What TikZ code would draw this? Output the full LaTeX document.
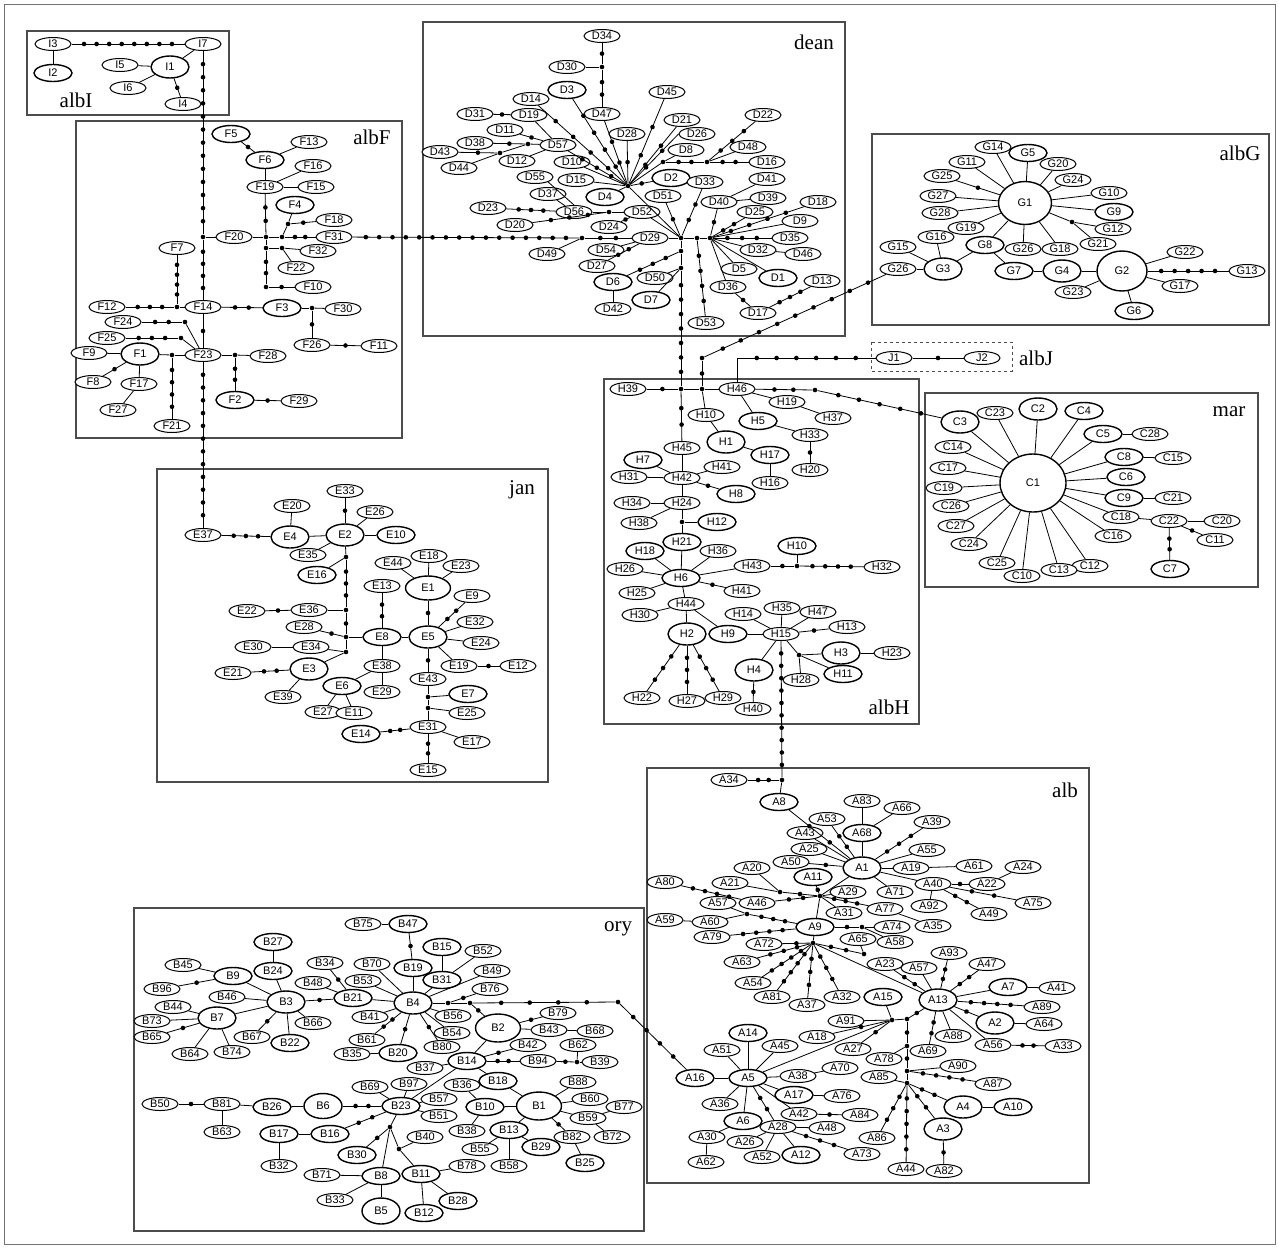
\documentclass[tikz,border=0pt]{standalone}
\usepackage{fontspec}
\setmainfont{Liberation Serif}
\setsansfont{Liberation Sans}
\usepackage{tikz}
\usetikzlibrary{shapes.geometric,decorations.markings}

\newcommand\mutdot{\fill (0,0) circle (2.3pt);}
\tikzset{
  hap/.style={ellipse, draw, fill=white, line width=1pt, inner sep=0pt, minimum width=36pt, minimum height=13pt, font=\sffamily\fontsize{11}{11}\selectfont},
  hapb/.style={hap, line width=1.4pt, minimum width=38pt, minimum height=17pt},
  hapl/.style={hap, line width=1.4pt, minimum width=38pt, minimum height=22pt},
  hapxl/.style={hap, line width=1.4pt, minimum width=45pt, minimum height=28pt},
  jd/.style={circle, fill=black, inner sep=0pt, minimum size=4.6pt},
  grp/.style={draw=black!70, line width=1.2pt},
  grplab/.style={font=\fontsize{21}{21}\selectfont},
  mut/.code={%
    \pgfmathsetmacro\mutstep{1/(#1+1)}%
    \pgfmathsetmacro\mutend{#1/(#1+1)+0.003}%
    \edef\mutopt{\noexpand\tikzset{postaction={decorate,decoration={markings,mark=between positions \mutstep\space and \mutend\space step \mutstep\space with {\noexpand\mutdot}}}}}%
    \mutopt},
}

\begin{document}
\begin{tikzpicture}[x=1pt, y=-1pt, line width=0.8pt]
\useasboundingbox (0,0) rectangle (1279,1248);
\draw[black!55, line width=0.8pt] (4,4) rectangle (1275,1244);

% -- group frames --
\draw[grp] (27,31) rectangle (229,115);
\draw[grp] (76,121) rectangle (402,438);
\draw[grp] (423,22) rectangle (845,336);
\draw[grp] (872,134) rectangle (1269,325);
\draw[grp, dashed, line width=0.8pt] (871,342) rectangle (1012,371);
\draw[grp] (604,379) rectangle (919,724);
\draw[grp] (925,393) rectangle (1258,587);
\draw[grp] (157,469) rectangle (548,782);
\draw[grp] (647,768) rectangle (1089,1183);
\draw[grp] (134,908) rectangle (644,1231);

\node[grplab] (lalbI) at (76,100) {albI};
\node[grplab] (lalbF) at (372,137) {albF};
\node[grplab] (ldean) at (814,42) {dean};
\node[grplab] (lalbG) at (1240,153) {albG};
\node[grplab] (lalbJ) at (1036,358) {albJ};
\node[grplab] (lalbH) at (889,707) {albH};
\node[grplab] (lmar) at (1229,412) {mar};
\node[grplab] (ljan) at (522,490) {jan};
\node[grplab] (lalb) at (1065,790) {alb};
\node[grplab] (lory) at (618,929) {ory};

% -- albI --
\node[hap] (I3) at (53,44) {I3};
\node[hapb] (I2) at (53,73) {I2};
\node[hap] (I7) at (203,44) {I7};
\node[hapl] (I1) at (170,67) {I1};
\node[hap] (I5) at (120,65) {I5};
\node[hap] (I6) at (128,88) {I6};
\node[hap] (I4) at (183,104) {I4};

% -- albF --
\node[hapb] (F5) at (231,134) {F5};
\node[hapb] (F6) at (265,160) {F6};
\node[hap] (F13) at (309,142) {F13};
\node[hap] (F16) at (313,166) {F16};
\node[hap] (F19) at (265,187) {F19};
\node[hap] (F15) at (316,187) {F15};
\node[hapb] (F4) at (295,205) {F4};
\node[hap] (F18) at (334,220) {F18};
\node[hap] (F20) at (234,237) {F20};
\node[hap] (F31) at (334,237) {F31};
\node[hap] (F32) at (318,251) {F32};
\node[hap] (F22) at (296,268) {F22};
\node[hap] (F10) at (313,287) {F10};
\node[hap] (F7) at (177,248) {F7};
\node[hap] (F12) at (107,307) {F12};
\node[hap] (F14) at (203,307) {F14};
\node[hapb] (F3) at (282,308) {F3};
\node[hap] (F30) at (343,309) {F30};
\node[hap] (F24) at (123,322) {F24};
\node[hap] (F25) at (107,338) {F25};
\node[hap] (F26) at (312,345) {F26};
\node[hap] (F11) at (379,346) {F11};
\node[hap] (F9) at (89,353) {F9};
\node[hapl] (F1) at (140,354) {F1};
\node[hap] (F23) at (203,355) {F23};
\node[hap] (F28) at (268,356) {F28};
\node[hap] (F8) at (93,382) {F8};
\node[hap] (F17) at (139,384) {F17};
\node[hap] (F27) at (118,410) {F27};
\node[hapb] (F2) at (235,400) {F2};
\node[hap] (F29) at (299,401) {F29};
\node[hap] (F21) at (172,426) {F21};
\node[jd] (jF20) at (203,237) {};
\node[jd] (jF19) at (266,237) {};
\node[jd] (jF4) at (282,237) {};
\node[jd] (jF18) at (288,224) {};
\node[jd] (jF32a) at (266,248) {};
\node[jd] (jF32b) at (282,248) {};
\node[jd] (jF10) at (266,287) {};
\node[jd] (jF7) at (177,307) {};
\node[jd] (jF3) at (312,308) {};
\node[jd] (jF24) at (185,322) {};
\node[jd] (jF25) at (181,338) {};
\node[jd] (jF21) at (172,355) {};
\node[jd] (jF2) at (235,355) {};

% -- dean --
\node[hap] (D34) at (602,36) {D34};
\node[hap] (D30) at (567,67) {D30};
\node[hapb] (D3) at (567,90) {D3};
\node[hap] (D45) at (667,92) {D45};
\node[hap] (D14) at (531,99) {D14};
\node[hap] (D47) at (602,114) {D47};
\node[hap] (D31) at (475,114) {D31};
\node[hap] (D19) at (529,115) {D19};
\node[hap] (D22) at (763,115) {D22};
\node[hap] (D21) at (682,120) {D21};
\node[hap] (D11) at (505,130) {D11};
\node[hap] (D28) at (627,134) {D28};
\node[hap] (D26) at (697,134) {D26};
\node[hap] (D38) at (475,143) {D38};
\node[hap] (D57) at (558,145) {D57};
\node[hap] (D43) at (440,152) {D43};
\node[hap] (D8) at (686,150) {D8};
\node[hap] (D48) at (748,147) {D48};
\node[hap] (D12) at (517,161) {D12};
\node[hap] (D44) at (459,168) {D44};
\node[hap] (D10) at (572,162) {D10};
\node[hap] (D16) at (767,162) {D16};
\node[hap] (D55) at (535,177) {D55};
\node[hap] (D15) at (576,180) {D15};
\node[hapb] (D2) at (671,178) {D2};
\node[hap] (D33) at (705,182) {D33};
\node[hap] (D41) at (767,179) {D41};
\node[hapb] (D4) at (605,197) {D4};
\node[hap] (D51) at (663,196) {D51};
\node[hap] (D37) at (548,194) {D37};
\node[hap] (D39) at (768,198) {D39};
\node[hap] (D18) at (818,202) {D18};
\node[hap] (D40) at (719,202) {D40};
\node[hap] (D25) at (755,212) {D25};
\node[hap] (D23) at (488,208) {D23};
\node[hap] (D56) at (574,212) {D56};
\node[hap] (D52) at (642,212) {D52};
\node[hap] (D9) at (800,221) {D9};
\node[hap] (D20) at (515,225) {D20};
\node[hap] (D24) at (609,227) {D24};
\node[hap] (D29) at (650,238) {D29};
\node[hap] (D35) at (790,238) {D35};
\node[hap] (D49) at (547,254) {D49};
\node[hap] (D54) at (606,250) {D54};
\node[hap] (D32) at (758,250) {D32};
\node[hap] (D46) at (803,254) {D46};
\node[hap] (D27) at (597,266) {D27};
\node[hap] (D5) at (739,269) {D5};
\node[hapb] (D6) at (613,282) {D6};
\node[hap] (D50) at (655,278) {D50};
\node[hapb] (D1) at (778,278) {D1};
\node[hap] (D36) at (728,287) {D36};
\node[hap] (D13) at (822,281) {D13};
\node[hapb] (D7) at (651,300) {D7};
\node[hap] (D17) at (758,313) {D17};
\node[hap] (D42) at (613,309) {D42};
\node[hap] (D53) at (706,323) {D53};
\node[jd] (jD30) at (602,67) {};
\node[jd] (hA) at (628,186) {};
\node[jd] (hB) at (681,238) {};
\node[jd] (jBC) at (697,238) {};
\node[jd] (hC) at (710,238) {};
\node[jd] (jD16) at (663,162) {};
\node[jd] (jD48) at (707,162) {};
\node[jd] (jD56) at (609,212) {};
\node[jd] (jD49) at (582,238) {};
\node[jd] (jD6) at (681,251) {};
\node[jd] (jD7) at (681,268) {};
\node[jd] (jD43) at (500,153) {};
\node[jd] (jD38) at (528,144) {};

% -- albG --
\node[hap] (G14) at (993,147) {G14};
\node[hapb] (G5) at (1028,153) {G5};
\node[hap] (G11) at (967,162) {G11};
\node[hap] (G20) at (1058,164) {G20};
\node[hap] (G25) at (942,176) {G25};
\node[hap] (G24) at (1073,180) {G24};
\node[hap] (G27) at (938,196) {G27};
\node[hap] (G10) at (1109,193) {G10};
\node[hap, line width=1.4pt, minimum width=53pt, minimum height=43pt] (G1) at (1025,203) {G1};
\node[hapb] (G9) at (1114,212) {G9};
\node[hap] (G28) at (940,213) {G28};
\node[hap] (G19) at (966,228) {G19};
\node[hap] (G12) at (1113,229) {G12};
\node[hap] (G16) at (936,237) {G16};
\node[hapb] (G8) at (985,245) {G8};
\node[hap] (G26a) at (1023,249) {G26};
\node[hap] (G18) at (1060,249) {G18};
\node[hap] (G21) at (1098,244) {G21};
\node[hap] (G15) at (898,247) {G15};
\node[hap] (G22) at (1185,252) {G22};
\node[hap] (G26b) at (898,269) {G26};
\node[hapl] (G3) at (943,269) {G3};
\node[hapb] (G7) at (1014,271) {G7};
\node[hapl] (G4) at (1062,271) {G4};
\node[hap, line width=1.4pt, minimum width=50pt, minimum height=40pt] (G2) at (1122,271) {G2};
\node[hap] (G13) at (1247,271) {G13};
\node[hap] (G17) at (1180,286) {G17};
\node[hap] (G23) at (1073,292) {G23};
\node[hapb] (G6) at (1134,311) {G6};
\node[jd] (jG12) at (1072,222) {};

% -- albJ --
\node[hap] (J1) at (894,358) {J1};
\node[hap] (J2) at (982,358) {J2};
\coordinate (jJ) at (737,358);
\node[jd] (jGA) at (702,358) {};

% -- albH --
\node[hap] (H39) at (628,389) {H39};
\node[hap] (H46) at (737,389) {H46};
\node[hap] (H19) at (787,402) {H19};
\node[hap] (H10a) at (706,415) {H10};
\node[hap] (H37) at (833,418) {H37};
\node[hapb] (H5) at (758,421) {H5};
\node[hapl] (H1) at (726,442) {H1};
\node[hap] (H33) at (810,435) {H33};
\node[hap] (H45) at (682,448) {H45};
\node[hapb] (H7) at (643,460) {H7};
\node[hapb] (H17) at (770,455) {H17};
\node[hap] (H41a) at (722,467) {H41};
\node[hap] (H31) at (629,477) {H31};
\node[hap] (H42) at (682,478) {H42};
\node[hap] (H20) at (810,470) {H20};
\node[hap] (H16) at (770,483) {H16};
\node[hapb] (H8) at (736,494) {H8};
\node[hap] (H34) at (632,503) {H34};
\node[hap] (H24) at (682,503) {H24};
\node[hap] (H38) at (639,523) {H38};
\node[hapb] (H12) at (717,522) {H12};
\node[hapb] (H21) at (682,542) {H21};
\node[hapb] (H18) at (645,551) {H18};
\node[hapb] (H10b) at (797,546) {H10};
\node[hap] (H36) at (718,551) {H36};
\node[hap] (H26) at (625,569) {H26};
\node[hap] (H43) at (752,566) {H43};
\node[hap] (H32) at (882,567) {H32};
\node[hapb] (H6) at (681,578) {H6};
\node[hap] (H25) at (637,593) {H25};
\node[hap] (H41b) at (742,591) {H41};
\node[hap] (H44) at (686,604) {H44};
\node[hap] (H35) at (782,608) {H35};
\node[hap] (H30) at (640,615) {H30};
\node[hap] (H14) at (743,614) {H14};
\node[hap] (H47) at (818,612) {H47};
\node[hap] (H13) at (847,627) {H13};
\node[hapl] (H2) at (687,634) {H2};
\node[hapb] (H9) at (728,634) {H9};
\node[hap] (H15) at (781,634) {H15};
\node[hapl] (H3) at (841,653) {H3};
\node[hap] (H23) at (892,653) {H23};
\node[hapl] (H4) at (754,670) {H4};
\node[hapb] (H11) at (843,674) {H11};
\node[hap] (H28) at (801,680) {H28};
\node[hap] (H22) at (642,698) {H22};
\node[hap] (H27) at (687,701) {H27};
\node[hap] (H29) at (723,698) {H29};
\node[hap] (H40) at (753,709) {H40};
\node[jd] (jH39) at (681,389) {};
\node[jd] (jH46a) at (702,389) {};
\node[jd] (jH46b) at (815,390) {};
\node[jd] (jH12) at (682,522) {};
\node[jd] (jH10) at (797,566) {};
\node[jd] (jH3) at (799,655) {};

% -- mar --
\node[hapl] (C3) at (960,422) {C3};
\node[hap] (C23) at (995,413) {C23};
\node[hapl] (C2) at (1038,409) {C2};
\node[hapb] (C4) at (1084,411) {C4};
\node[hapb] (C5) at (1103,434) {C5};
\node[hap] (C28) at (1150,434) {C28};
\node[hap] (C14) at (953,447) {C14};
\node[hapb] (C8) at (1124,457) {C8};
\node[hap] (C15) at (1173,458) {C15};
\node[hap] (C17) at (948,468) {C17};
\node[hap, line width=1.4pt, minimum width=66pt, minimum height=58pt] (C1) at (1033,483) {C1};
\node[hapb] (C6) at (1126,477) {C6};
\node[hap] (C19) at (944,488) {C19};
\node[hapb] (C9) at (1124,498) {C9};
\node[hap] (C21) at (1173,498) {C21};
\node[hap] (C26) at (951,506) {C26};
\node[hap] (C18) at (1121,517) {C18};
\node[hap] (C22) at (1169,521) {C22};
\node[hap] (C20) at (1222,521) {C20};
\node[hap] (C27) at (956,526) {C27};
\node[hap] (C16) at (1113,536) {C16};
\node[hap] (C11) at (1215,540) {C11};
\node[hap] (C24) at (969,544) {C24};
\node[hap] (C25) at (997,563) {C25};
\node[hap] (C12) at (1090,566) {C12};
\node[hap] (C13) at (1059,570) {C13};
\node[hap] (C10) at (1022,576) {C10};
\node[hapb] (C7) at (1170,569) {C7};

% -- jan --
\node[hap] (E33) at (345,491) {E33};
\node[hap] (E20) at (292,506) {E20};
\node[hap] (E26) at (375,512) {E26};
\node[hap] (E37) at (203,535) {E37};
\node[hapl] (E4) at (290,537) {E4};
\node[hapl] (E2) at (345,535) {E2};
\node[hapb] (E10) at (396,535) {E10};
\node[hap] (E35) at (308,555) {E35};
\node[hap] (E18) at (429,556) {E18};
\node[hap] (E44) at (393,563) {E44};
\node[hap] (E23) at (461,566) {E23};
\node[hapb] (E16) at (317,575) {E16};
\node[hap] (E13) at (382,586) {E13};
\node[hap, line width=1.4pt, minimum width=45pt, minimum height=24pt] (E1) at (428,588) {E1};
\node[hap] (E9) at (472,596) {E9};
\node[hap] (E22) at (247,611) {E22};
\node[hap] (E36) at (309,610) {E36};
\node[hap] (E32) at (475,622) {E32};
\node[hap] (E28) at (304,627) {E28};
\node[hapb] (E8) at (382,637) {E8};
\node[hapl] (E5) at (428,637) {E5};
\node[hap] (E24) at (481,643) {E24};
\node[hap] (E30) at (253,647) {E30};
\node[hap] (E34) at (311,647) {E34};
\node[hap] (E19) at (459,666) {E19};
\node[hap] (E12) at (518,666) {E12};
\node[hap] (E21) at (233,673) {E21};
\node[hapl] (E3) at (309,669) {E3};
\node[hap] (E38) at (382,666) {E38};
\node[hap] (E43) at (428,679) {E43};
\node[hapb] (E6) at (342,686) {E6};
\node[hap] (E29) at (382,692) {E29};
\node[hapb] (E7) at (468,694) {E7};
\node[hap] (E39) at (283,697) {E39};
\node[hap] (E27) at (323,712) {E27};
\node[hap] (E11) at (354,713) {E11};
\node[hap] (E25) at (467,713) {E25};
\node[hap] (E31) at (428,727) {E31};
\node[hapb] (E14) at (361,734) {E14};
\node[hap] (E17) at (472,742) {E17};
\node[hap] (E15) at (428,770) {E15};
\node[jd] (jE16) at (346,557) {};
\node[jd] (jE36) at (346,610) {};
\node[jd] (jE8) at (346,637) {};
\node[jd] (jE34) at (346,652) {};
\node[jd] (jE7) at (428,697) {};
\node[jd] (jE25) at (428,708) {};

% -- alb --
\node[hap] (A34) at (729,780) {A34};
\node[hapb] (A8) at (779,802) {A8};
\node[hap] (A83) at (862,801) {A83};
\node[hap] (A66) at (902,808) {A66};
\node[hap] (A53) at (827,819) {A53};
\node[hap] (A39) at (932,822) {A39};
\node[hap] (A43) at (805,833) {A43};
\node[hapb] (A68) at (862,833) {A68};
\node[hap] (A25) at (809,849) {A25};
\node[hap] (A55) at (927,850) {A55};
\node[hap] (A50) at (791,862) {A50};
\node[hapl] (A1) at (862,868) {A1};
\node[hap] (A19) at (911,868) {A19};
\node[hap] (A61) at (974,866) {A61};
\node[hap] (A24) at (1023,867) {A24};
\node[hap] (A20) at (752,868) {A20};
\node[hapb] (A11) at (813,877) {A11};
\node[hap] (A80) at (665,882) {A80};
\node[hap] (A21) at (730,883) {A21};
\node[hap] (A40) at (933,884) {A40};
\node[hap] (A22) at (987,884) {A22};
\node[hap] (A29) at (848,892) {A29};
\node[hap] (A71) at (895,892) {A71};
\node[hap] (A57a) at (718,903) {A57};
\node[hap] (A46) at (757,903) {A46};
\node[hap] (A92) at (929,906) {A92};
\node[hap] (A75) at (1033,903) {A75};
\node[hap] (A77) at (885,909) {A77};
\node[hap] (A31) at (844,913) {A31};
\node[hap] (A49) at (989,914) {A49};
\node[hap] (A59) at (665,920) {A59};
\node[hap] (A60) at (710,922) {A60};
\node[hapb] (A9) at (815,927) {A9};
\node[hap] (A35) at (933,926) {A35};
\node[hap] (A74) at (892,927) {A74};
\node[hap] (A79) at (712,937) {A79};
\node[hap] (A65) at (858,939) {A65};
\node[hap] (A58) at (895,942) {A58};
\node[hap] (A72) at (764,944) {A72};
\node[hap] (A93) at (949,953) {A93};
\node[hap] (A63) at (742,962) {A63};
\node[hap] (A23) at (885,964) {A23};
\node[hap] (A57b) at (919,968) {A57};
\node[hap] (A47) at (987,964) {A47};
\node[hap] (A54) at (753,983) {A54};
\node[hap] (A81) at (772,997) {A81};
\node[hap] (A37) at (807,1005) {A37};
\node[hap] (A32) at (842,997) {A32};
\node[hapb] (A15) at (883,997) {A15};
\node[hapl] (A13) at (938,1000) {A13};
\node[hapb] (A7) at (1008,987) {A7};
\node[hap] (A41) at (1057,988) {A41};
\node[hap] (A89) at (1042,1007) {A89};
\node[hap] (A91) at (846,1021) {A91};
\node[hapl] (A2) at (995,1023) {A2};
\node[hap] (A64) at (1044,1024) {A64};
\node[hap] (A88) at (953,1036) {A88};
\node[hapb] (A14) at (748,1033) {A14};
\node[hap] (A18) at (817,1037) {A18};
\node[hap] (A51) at (722,1050) {A51};
\node[hap] (A45) at (780,1046) {A45};
\node[hap] (A27) at (853,1049) {A27};
\node[hap] (A69) at (928,1051) {A69};
\node[hap] (A56) at (993,1045) {A56};
\node[hap] (A33) at (1063,1046) {A33};
\node[hap] (A78) at (884,1059) {A78};
\node[hap] (A90) at (958,1066) {A90};
\node[hapb] (A16) at (695,1078) {A16};
\node[hapb] (A5) at (748,1078) {A5};
\node[hap] (A38) at (798,1076) {A38};
\node[hap] (A70) at (840,1068) {A70};
\node[hap] (A85) at (879,1077) {A85};
\node[hap] (A87) at (993,1084) {A87};
\node[hapb] (A17) at (794,1095) {A17};
\node[hap] (A76) at (842,1096) {A76};
\node[hap] (A36) at (720,1104) {A36};
\node[hapl] (A4) at (963,1107) {A4};
\node[hapb] (A10) at (1013,1107) {A10};
\node[hap] (A42) at (799,1114) {A42};
\node[hap] (A84) at (860,1115) {A84};
\node[hapb] (A6) at (743,1121) {A6};
\node[hap] (A28) at (778,1127) {A28};
\node[hap] (A48) at (827,1128) {A48};
\node[hapl] (A3) at (943,1129) {A3};
\node[hap] (A30) at (707,1137) {A30};
\node[hap] (A26) at (745,1142) {A26};
\node[hap] (A86) at (877,1138) {A86};
\node[hap] (A73) at (862,1154) {A73};
\node[hap] (A52) at (762,1157) {A52};
\node[hapb] (A12) at (801,1155) {A12};
\node[hap] (A62) at (706,1162) {A62};
\node[hap] (A44) at (906,1169) {A44};
\node[hap] (A82) at (944,1171) {A82};
\node[jd] (jA34) at (782,780) {};
\node[jd] (jA9) at (820,896) {};
\node[jd] (jA21) at (780,892) {};
\node[jd] (jA60) at (747,914) {};
\node[jd] (jA74) at (862,927) {};
\node[jd] (jA72) at (813,943) {};
\node[jd] (jA65) at (864,954) {};
\node[jd] (jA15) at (892,1020) {};
\node[jd] (jV1) at (907,1019) {};
\node[jd] (jV2) at (907,1046) {};
\node[jd] (jV3) at (907,1071) {};
\node[jd] (jV4) at (907,1083) {};

% -- ory --
\node[hap] (B75) at (363,924) {B75};
\node[hapb] (B47) at (408,924) {B47};
\node[hapb] (B27) at (273,942) {B27};
\node[hapb] (B15) at (442,947) {B15};
\node[hap] (B52) at (483,951) {B52};
\node[hapb] (B19) at (413,968) {B19};
\node[hapb] (B31) at (442,980) {B31};
\node[hap] (B49) at (492,971) {B49};
\node[hap] (B45) at (183,965) {B45};
\node[hapb] (B9) at (233,976) {B9};
\node[hapb] (B24) at (273,971) {B24};
\node[hap] (B34) at (325,963) {B34};
\node[hap] (B70) at (372,964) {B70};
\node[hap] (B76) at (490,989) {B76};
\node[hap] (B96) at (162,989) {B96};
\node[hap] (B48) at (313,983) {B48};
\node[hap] (B53) at (363,981) {B53};
\node[hap] (B46) at (227,997) {B46};
\node[hapl] (B3) at (286,1002) {B3};
\node[hapb] (B21) at (353,998) {B21};
\node[hapl] (B4) at (413,1003) {B4};
\node[hap] (B44) at (173,1007) {B44};
\node[hapl] (B7) at (217,1018) {B7};
\node[hap] (B73) at (152,1021) {B73};
\node[hap] (B41) at (370,1017) {B41};
\node[hap] (B66) at (313,1023) {B66};
\node[hap] (B56) at (453,1016) {B56};
\node[hap] (B65) at (152,1037) {B65};
\node[hap] (B54) at (452,1033) {B54};
\node[hapxl] (B2) at (498,1028) {B2};
\node[hap] (B79) at (558,1013) {B79};
\node[hap] (B43) at (549,1030) {B43};
\node[hap] (B68) at (595,1031) {B68};
\node[hap] (B61) at (367,1040) {B61};
\node[hap] (B67) at (252,1037) {B67};
\node[hapb] (B22) at (290,1043) {B22};
\node[hap] (B80) at (442,1047) {B80};
\node[hap] (B42) at (528,1045) {B42};
\node[hap] (B62) at (578,1045) {B62};
\node[hap] (B64) at (190,1054) {B64};
\node[hap] (B74) at (232,1052) {B74};
\node[hap] (B35) at (352,1054) {B35};
\node[hapb] (B20) at (398,1053) {B20};
\node[hapb] (B14) at (467,1061) {B14};
\node[hap] (B94) at (538,1061) {B94};
\node[hap] (B39) at (600,1062) {B39};
\node[hap] (B37) at (425,1068) {B37};
\node[hapb] (B18) at (498,1081) {B18};
\node[hap] (B88) at (578,1082) {B88};
\node[hap] (B69) at (370,1087) {B69};
\node[hap] (B97) at (409,1084) {B97};
\node[hap] (B36) at (462,1085) {B36};
\node[hap] (B57) at (439,1099) {B57};
\node[hap] (B60) at (590,1099) {B60};
\node[hap] (B77) at (624,1107) {B77};
\node[hap] (B50) at (160,1104) {B50};
\node[hap] (B81) at (222,1104) {B81};
\node[hapb] (B26) at (272,1107) {B26};
\node[hap, line width=1.4pt, minimum width=38pt, minimum height=25pt] (B6) at (323,1106) {B6};
\node[hapb] (B23) at (401,1106) {B23};
\node[hapb] (B10) at (485,1107) {B10};
\node[hapxl] (B1) at (539,1106) {B1};
\node[hap] (B51) at (439,1116) {B51};
\node[hap] (B59) at (588,1118) {B59};
\node[hap] (B38) at (467,1131) {B38};
\node[hapb] (B13) at (509,1130) {B13};
\node[hap] (B82) at (572,1137) {B82};
\node[hap] (B72) at (612,1137) {B72};
\node[hap] (B40) at (425,1137) {B40};
\node[hapb] (B17) at (279,1134) {B17};
\node[hapb] (B16) at (330,1134) {B16};
\node[hap] (B63) at (222,1132) {B63};
\node[hapb] (B29) at (541,1147) {B29};
\node[hap] (B55) at (480,1149) {B55};
\node[hapb] (B30) at (357,1155) {B30};
\node[hap] (B58) at (509,1166) {B58};
\node[hapb] (B25) at (585,1163) {B25};
\node[hap] (B78) at (467,1166) {B78};
\node[hap] (B32) at (279,1166) {B32};
\node[hap] (B71) at (322,1175) {B71};
\node[hapb] (B8) at (381,1176) {B8};
\node[hapb] (B11) at (421,1174) {B11};
\node[hap] (B33) at (335,1200) {B33};
\node[hapb] (B28) at (458,1201) {B28};
\node[hap, line width=1.4pt, minimum width=38pt, minimum height=26pt] (B5) at (381,1211) {B5};
\node[hapb] (B12) at (424,1213) {B12};
\node[jd] (jB4a) at (448,1003) {};
\node[jd] (jB4b) at (470,1003) {};
\node[jd] (jOry) at (618,1002) {};
\node[jd] (jB39) at (577,1062) {};
\node[jd] (jB23) at (390,1127) {};
\node[jd] (jB40) at (399,1149) {};

% -- connectors: albI / albF --
\draw (I3) -- (I2); \draw[mut=8] (I3) -- (I7);
\draw (I1) -- (I5); \draw (I1) -- (I6); \draw (I1) -- (I7); \draw[mut=1] (I1) -- (I4);
\draw[mut=13] (I7) -- (jF20); \draw[mut=4] (jF20) -- (F14);
\draw (F20) -- (jF20); \draw (F20) -- (jF19);
\draw[mut=1] (F5) -- (F6); \draw (F6) -- (F13); \draw (F6) -- (F19);
\draw (F19) -- (F16); \draw (F19) -- (F15);
\draw[mut=2] (F19) -- (jF19);
\draw (jF19) -- (jF4); \draw[mut=2] (jF4) -- (F31);
\draw (jF4) -- (jF18); \draw (jF18) -- (F4); \draw[mut=1] (jF18) -- (F18);
\draw (jF19) -- (jF32a); \draw (jF32a) -- (jF32b); \draw (jF32b) -- (F32); \draw (jF32b) -- (F22);
\draw[mut=2] (jF32a) -- (jF10); \draw[mut=1] (jF10) -- (F10);
\draw[mut=4] (F7) -- (jF7); \draw[mut=3] (F12) -- (jF7); \draw (jF7) -- (F14);
\draw[mut=2] (F14) -- (F3); \draw (F3) -- (jF3); \draw (jF3) -- (F30);
\draw[mut=1] (jF3) -- (F26); \draw[mut=1] (F26) -- (F11);
\draw[mut=1] (F14) -- (F23);
\draw[mut=2] (F24) -- (jF24); \draw (jF24) -- (F23);
\draw[mut=3] (F25) -- (jF25); \draw (jF25) -- (F23);
\draw (F9) -- (F1); \draw (F1) -- (jF21); \draw (jF21) -- (F23); \draw[mut=4] (jF21) -- (F21);
\draw[mut=1] (F1) -- (F8); \draw (F1) -- (F17); \draw (F17) -- (F27);
\draw (F23) -- (jF2); \draw (jF2) -- (F28); \draw[mut=2] (jF2) -- (F2); \draw[mut=1] (F2) -- (F29);
\draw[mut=12] (F23) -- (E37);

% -- connectors: dean --
\draw[mut=1] (D34) -- (jD30); \draw (D30) -- (jD30); \draw[mut=2] (jD30) -- (D47);
\draw[mut=2] (D47) -- (hA); \draw[mut=4] (D3) -- (hA); \draw[mut=4] (D14) -- (hA); \draw[mut=3] (D57) -- (hA);
\draw (D19) -- (D57); \draw[mut=1] (D31) -- (D19); \draw[mut=1] (D11) -- (D57);
\draw[mut=1] (D43) -- (jD43); \draw (D44) -- (jD43); \draw (jD43) -- (jD38);
\draw[mut=1] (D38) -- (jD38); \draw (jD38) -- (D57); \draw (D12) -- (D57);
\draw (D10) -- (hA); \draw (D15) -- (hA); \draw[mut=1] (D28) -- (hA); \draw (D4) -- (hA); \draw[mut=1] (D2) -- (hA);
\draw[mut=2] (D45) -- (hA); \draw[mut=2] (D21) -- (hA); \draw[mut=2] (hA) -- (D26.west);
\draw (hA) -- (jD16); \draw (D8) -- (jD16);
\draw[mut=2] (jD16) -- (jD48); \draw[mut=2] (jD48) -- (D16);
\draw (D48) -- (jD48); \draw[mut=3] (D22) -- (jD48);
\draw (D55.south east) -- (D56.north); \draw (D37) -- (D56); \draw[mut=3] (D23) -- (D56);
\draw (D56) -- (jD56); \draw (jD56) -- (D52); \draw[mut=3] (D20) -- (jD56);
\draw (D52) -- (hB); \draw[mut=1] (D24) -- (D52); \draw (hA) -- (hB);
\draw[mut=1] (D51) -- (hB); \draw[mut=2] (D33) -- (hB);
\draw (D29) -- (hB); \draw (D54) -- (D29); \draw[mut=2] (D27) -- (D29);
\draw[mut=2] (jD49) -- (D29); \draw (D49) -- (jD49); \draw[mut=16] (F31) -- (jD49);
\draw (hB) -- (jD6); \draw[mut=3] (D6) -- (jD6); \draw (D42) -- (D6);
\draw (jD6) -- (jD7); \draw (D50) -- (jD7); \draw (D7) -- (jD7);
\draw[mut=7] (jD7) -- (jH39);
\draw (hB) -- (jBC); \draw (jBC) -- (hC); \draw[mut=4] (jBC) -- (D53);
\draw[mut=1] (hC) -- (D40); \draw (D40) -- (D41); \draw (D40) -- (D39);
\draw[mut=2] (hC) -- (D25); \draw[mut=4] (hC) -- (D18); \draw (hC) -- (D9); \draw[mut=3] (hC) -- (D35);
\draw (hC) -- (D32); \draw (D32) -- (D46); \draw (hC) -- (D1); \draw (hC) -- (D5); \draw (hC) -- (D36);
\draw[mut=1] (D36) -- (D17); \draw[mut=3] (D17) -- (D13);

% -- connectors: albG / albJ --
\draw (G1) -- (G14); \draw (G1) -- (G5); \draw (G1) -- (G11); \draw (G1) -- (G20); \draw (G1) -- (G24);
\draw (G1) -- (G27); \draw (G1) -- (G10); \draw (G1) -- (G9); \draw (G1) -- (G28); \draw (G1) -- (G19);
\draw (G1) -- (G8); \draw (G1) -- (G26a); \draw (G1) -- (G18); \draw[mut=1] (G1) -- (G25);
\draw (G1) -- (jG12); \draw (jG12) -- (G12); \draw (jG12) -- (G21);
\draw (G8) -- (G3); \draw (G8) -- (G7); \draw (G3) -- (G15); \draw (G3) -- (G16); \draw (G3) -- (G26b);
\draw (G7) -- (G4); \draw (G4) -- (G2);
\draw (G2) -- (G22); \draw (G2) -- (G17); \draw (G2) -- (G23); \draw (G2) -- (G6); \draw[mut=5] (G2) -- (G13);
\draw[mut=9] (G26b) -- (jGA);
\draw[mut=1] (J1) -- (J2); \draw[mut=6] (J1) -- (jJ); \draw (jJ) -- (H46);

% -- connectors: albH --
\draw[mut=1] (H39) -- (jH39); \draw (jH39) -- (jH46a); \draw (jH46a) -- (H46);
\draw[mut=2] (jH39) -- (H45);
\draw[mut=1] (jGA) -- (jH46a); \draw (jH46a) -- (H10a);
\draw[mut=2] (H46) -- (jH46b); \draw[mut=5] (jH46b) -- (C3);
\draw (H46) -- (H19); \draw (H19) -- (H37);
\draw (H46) -- (H5); \draw (H5) -- (H33); \draw[mut=1] (H33) -- (H20);
\draw (H10a) -- (H1); \draw (H1) -- (H17); \draw (H17) -- (H16);
\draw (H45) -- (H42); \draw (H7) -- (H42); \draw (H31) -- (H42); \draw (H42) -- (H41a); \draw[mut=1] (H42) -- (H8);
\draw (H42) -- (H24); \draw (H34) -- (H24); \draw (H38) -- (H24);
\draw (H24) -- (jH12); \draw (jH12) -- (H12); \draw (jH12) -- (H21);
\draw (H21) -- (H6); \draw (H18) -- (H6); \draw (H26) -- (H6); \draw (H36) -- (H6); \draw (H43) -- (H6); \draw (H25) -- (H6);
\draw[mut=1] (H6) -- (H41b); \draw (H6) -- (H44);
\draw[mut=1] (H43) -- (jH10); \draw (jH10) -- (H10b); \draw[mut=4] (jH10) -- (H32);
\draw (H44) -- (H30); \draw (H44) -- (H2); \draw (H44) -- (H9); \draw (H9) -- (H15);
\draw[mut=3] (H2) -- (H22); \draw[mut=3] (H2) -- (H27); \draw[mut=3] (H2) -- (H29);
\draw (H14) -- (H15); \draw (H35) -- (H15); \draw (H47) -- (H15); \draw[mut=1] (H15) -- (H13);
\draw (H15) -- (H4); \draw[mut=1] (H4) -- (H40);
\draw (H15) -- (jH3); \draw (jH3) -- (H3); \draw (jH3) -- (H11); \draw (jH3) -- (H28); \draw (H3) -- (H23);
\draw[mut=10] (H15) -- (jA34);

% -- connectors: mar --
\draw (C1) -- (C3); \draw (C1) -- (C23); \draw (C1) -- (C2); \draw (C1) -- (C4); \draw (C1) -- (C5);
\draw (C1) -- (C14); \draw (C1) -- (C8); \draw (C1) -- (C17); \draw (C1) -- (C6); \draw (C1) -- (C19);
\draw (C1) -- (C9); \draw (C1) -- (C26); \draw (C1) -- (C18); \draw (C1) -- (C27); \draw (C1) -- (C16);
\draw (C1) -- (C24); \draw (C1) -- (C25); \draw (C1) -- (C12); \draw (C1) -- (C13); \draw (C1) -- (C10);
\draw (C5) -- (C28); \draw (C8) -- (C15); \draw (C9) -- (C21);
\draw (C18) -- (C22); \draw (C22) -- (C20); \draw[mut=1] (C22) -- (C11); \draw[mut=2] (C22) -- (C7);

% -- connectors: jan --
\draw[mut=3] (E37) -- (E4); \draw (E20) -- (E4); \draw (E4) -- (E2); \draw (E35) -- (E2);
\draw[mut=1] (E33) -- (E2); \draw (E26) -- (E2); \draw (E2) -- (E10);
\draw (E2) -- (jE16); \draw (jE16) -- (E16); \draw[mut=3] (jE16) -- (jE36);
\draw (E36) -- (jE36); \draw[mut=1] (E22) -- (E36); \draw[mut=1] (jE36) -- (jE8);
\draw[mut=1] (E28) -- (jE8); \draw (jE8) -- (E8); \draw (jE8) -- (jE34);
\draw (E34) -- (jE34); \draw (E30) -- (E34); \draw (jE34) -- (E3); \draw[mut=2] (E21) -- (E3); \draw (E3) -- (E39);
\draw[mut=2] (E13) -- (E8); \draw (E8) -- (E5); \draw (E8) -- (E38); \draw (E38) -- (E29); \draw (E38) -- (E6);
\draw (E6) -- (E27); \draw (E6) -- (E11);
\draw (E1) -- (E44); \draw (E1) -- (E18); \draw (E1) -- (E23); \draw[mut=1] (E1) -- (E5);
\draw[mut=2] (E5) -- (E9); \draw (E5) -- (E32); \draw (E5) -- (E24); \draw (E5) -- (E19); \draw[mut=1] (E19) -- (E12);
\draw[mut=1] (E5) -- (E43); \draw (E43) -- (jE7); \draw (jE7) -- (E7); \draw (jE7) -- (jE25);
\draw (jE25) -- (E25); \draw (jE25) -- (E31); \draw (E31) -- (E17);
\draw[mut=2] (E31) -- (E14); \draw[mut=2] (E31) -- (E15);

% -- connectors: alb --
\draw[mut=2] (A34) -- (jA34); \draw (jA34) -- (A8); \draw[mut=2] (A8) -- (A1);
\draw (A83) -- (A68); \draw (A66) -- (A68); \draw (A68) -- (A1);
\draw[mut=2] (A53) -- (A1); \draw (A43) -- (A1); \draw (A25) -- (A1); \draw[mut=1] (A50) -- (A1);
\draw[mut=3] (A39) -- (A1); \draw (A55) -- (A1); \draw (A1) -- (A19); \draw (A19) -- (A61);
\draw (A1) -- (A40); \draw[mut=1] (A40) -- (A22); \draw (A22) -- (A24); \draw (A40) -- (A92);
\draw[mut=2] (A40) -- (A75); \draw[mut=2] (A40) -- (A49); \draw (A1) -- (A71);
\draw (A1) -- (jA9); \draw (jA9) -- (A9); \draw[mut=2] (A46) -- (jA9); \draw[mut=1] (A11) -- (jA9);
\draw (A31) -- (jA9); \draw (A29) -- (jA9);
\draw (A20) -- (jA21); \draw (A21) -- (jA21); \draw[mut=1] (jA21) -- (jA9);
\draw[mut=3] (jA9) -- (A77); \draw (A77) -- (A35);
\draw[mut=4] (A80) -- (A46);
\draw (A57a) -- (jA60); \draw (A60) -- (jA60); \draw (A59) -- (A60); \draw[mut=3] (jA60) -- (A9);
\draw[mut=4] (A79) -- (A9);
\draw[mut=1] (A9) -- (jA74); \draw (jA74) -- (A74); \draw (jA74) -- (A58);
\draw (A9) -- (jA72); \draw[mut=1] (A72) -- (jA72); \draw[mut=3] (A63) -- (jA72); \draw[mut=4] (A54) -- (jA72);
\draw[mut=4] (A81) -- (jA72); \draw[mut=3] (A37) -- (jA72); \draw[mut=3] (A32) -- (jA72);
\draw[mut=2] (jA72) -- (jA65); \draw (jA65) -- (A65); \draw (jA72) -- (A13);
\draw[mut=2] (A23) -- (A13); \draw (A57b) -- (A13); \draw[mut=2] (A93) -- (A13); \draw[mut=2] (A47) -- (A13);
\draw (A13) -- (A7); \draw (A7) -- (A41); \draw[mut=4] (A13) -- (A89);
\draw[mut=1] (A13) -- (A2); \draw (A2) -- (A64); \draw (A13) -- (A56); \draw[mut=2] (A56) -- (A33);
\draw (A13) -- (A88); \draw[mut=2] (A69) -- (A13);
\draw[mut=1] (A13) -- (jV1); \draw (jV1) -- (jA15);
\draw (A15) -- (jA15); \draw (A91) -- (jA15); \draw[mut=1] (A18) -- (jA15); \draw[mut=1] (A27) -- (jA15);
\draw (A5) -- (jA15);
\draw[mut=1] (jV1) -- (jV2); \draw (A78) -- (jV2);
\draw[mut=1] (jV2) -- (jV3); \draw (A90) -- (jV3); \draw[mut=4] (jV3) -- (A87);
\draw (jV3) -- (jV4); \draw (A85) -- (jV4);
\draw[mut=2] (jV4) -- (A4); \draw[mut=3] (jV4) -- (A86); \draw[mut=2] (jV4) -- (A3); \draw[mut=5] (jV4) -- (A44);
\draw (A4) -- (A10); \draw[mut=1] (A3) -- (A82);
\draw (A16) -- (A5); \draw (A14) -- (A5); \draw (A51) -- (A5); \draw (A45) -- (A5);
\draw (A5) -- (A38); \draw (A38) -- (A70); \draw (A5) -- (A17); \draw (A17) -- (A76);
\draw (A5) -- (A36); \draw (A5) -- (A6); \draw (A6) -- (A30); \draw (A30) -- (A62);
\draw (A5) -- (A42); \draw[mut=1] (A42) -- (A84); \draw[mut=2] (A5) -- (A28);
\draw (A28) -- (A26); \draw (A28) -- (A52); \draw (A28) -- (A12); \draw (A28) -- (A48); \draw[mut=3] (A28) -- (A73);

% -- connectors: ory --
\draw (B75) -- (B47); \draw[mut=1] (B47) -- (B19); \draw (B19) -- (B4);
\draw (B15) -- (B31); \draw (B52) -- (B31); \draw (B31) -- (B4); \draw (B49) -- (B4);
\draw (B4) -- (jB4a); \draw (jB4a) -- (jB4b); \draw[mut=1] (jB4a) -- (B76);
\draw[mut=1] (jB4b) -- (B2); \draw[mut=4] (jB4b) -- (jOry); \draw[mut=4] (jOry) -- (A16);
\draw (B70) -- (B4); \draw (B53) -- (B4); \draw (B21) -- (B4); \draw (B41) -- (B4);
\draw[mut=2] (B61) -- (B4); \draw[mut=1] (B20) -- (B4); \draw (B35) -- (B20);
\draw[mut=1] (B80) -- (B4); \draw (B56) -- (B4); \draw (B54) -- (B4);
\draw (B2) -- (B14); \draw (B37) -- (B14); \draw[mut=1] (B14) -- (B42);
\draw[mut=2] (B14) -- (B94); \draw[mut=1] (B94) -- (jB39); \draw (jB39) -- (B39); \draw (jB39) -- (B62);
\draw[mut=1] (B2) -- (B79); \draw (B2) -- (B43); \draw (B43) -- (B68);
\draw (B14) -- (B18); \draw (B18) -- (B1); \draw (B1) -- (B10); \draw (B10) -- (B36); \draw (B10) -- (B38);
\draw (B1) -- (B88); \draw (B1) -- (B60); \draw (B1) -- (B59); \draw (B59) -- (B77);
\draw[mut=1] (B1) -- (B82); \draw (B59) -- (B72); \draw (B82) -- (B25);
\draw (B1) -- (B13); \draw (B13) -- (B55); \draw (B13) -- (B58); \draw (B13) -- (B29);
\draw (B14) -- (B23);
\draw (B69) -- (B23); \draw (B97) -- (B23); \draw (B57) -- (B23); \draw (B51) -- (B23);
\draw[mut=1] (B3) -- (B21); \draw[mut=1] (B34) -- (B21); \draw (B48) -- (B21);
\draw (B27) -- (B24); \draw (B24) -- (B3); \draw (B9) -- (B3); \draw (B45) -- (B9); \draw[mut=1] (B96) -- (B9);
\draw (B46) -- (B3); \draw (B7) -- (B3); \draw[mut=1] (B3) -- (B67); \draw (B3) -- (B22); \draw (B3) -- (B66);
\draw (B44) -- (B7); \draw (B73) -- (B7); \draw[mut=1] (B65) -- (B7); \draw (B64) -- (B7); \draw (B74) -- (B7);
\draw[mut=1] (B50) -- (B81); \draw (B81) -- (B63); \draw (B81) -- (B26); \draw (B26) -- (B6);
\draw[mut=2] (B6) -- (B23); \draw[mut=2] (B16) -- (B23); \draw (B17) -- (B16); \draw (B17) -- (B32);
\draw (B23) -- (jB23); \draw[mut=1] (B30) -- (jB23); \draw (jB23) -- (B8); \draw (jB23) -- (jB40);
\draw (B40) -- (jB40); \draw (jB40) -- (B11);
\draw (B11) -- (B78); \draw (B11) -- (B12); \draw (B11) -- (B28);
\draw (B8) -- (B71); \draw (B8) -- (B33); \draw (B8) -- (B5);
\end{tikzpicture}
\end{document}
